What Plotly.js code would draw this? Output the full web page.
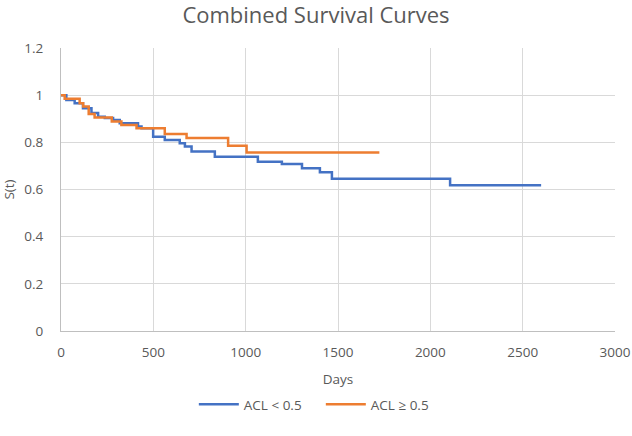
<!DOCTYPE html>
<html>
<head>
<meta charset="utf-8">
<script src="https://cdn.plot.ly/plotly-3.0.1.min.js"></script>
<style>html,body{margin:0;padding:0;background:#fff;}#chart{width:632px;height:436px;}</style>
</head>
<body>
<div id="chart"></div>
<script>
const blueDays = [0, 29, 74, 119, 165, 201, 237, 282, 318, 417, 436, 499, 562, 643, 671, 707, 833, 1066, 1196, 1305, 1402, 1467, 2107, 2600];
const blueS    = [1, 0.98, 0.966, 0.945, 0.924, 0.909, 0.903, 0.895, 0.881, 0.867, 0.86, 0.824, 0.81, 0.796, 0.782, 0.761, 0.739, 0.718, 0.708, 0.69, 0.673, 0.646, 0.618, 0.618];
const orangeDays = [0, 20, 101, 120, 150, 182, 275, 327, 409, 562, 680, 905, 1005, 1724];
const orangeS    = [1, 0.985, 0.966, 0.952, 0.92, 0.905, 0.888, 0.874, 0.86, 0.835, 0.818, 0.785, 0.757, 0.757];
const seriesNames = ["ACL < 0.5", "ACL \u2265 0.5"];
const xTicks = [0, 500, 1000, 1500, 2000, 2500, 3000];
const yTicks = [0, 0.2, 0.4, 0.6, 0.8, 1, 1.2];

const font = "Open Sans, Noto Sans, sans-serif";
const grey = "#595959";
const traces = [
  {x: blueDays, y: blueS, name: seriesNames[0], mode: "lines", line: {shape: "hv", color: "#4472C4", width: 2.5}},
  {x: orangeDays, y: orangeS, name: seriesNames[1], mode: "lines", line: {shape: "hv", color: "#ED7D31", width: 2.5}}
];
const layout = {
  width: 632, height: 436,
  margin: {l: 61, r: 17, t: 48, b: 105},
  paper_bgcolor: "#fff", plot_bgcolor: "#fff",
  font: {family: font, color: grey, size: 13.5},
  title: {text: "Combined Survival Curves", font: {family: font, size: 22, color: grey}, x: 0.5, xanchor: "center", y: 0.966, yanchor: "middle"},
  xaxis: {range: [0, 3000], tickvals: xTicks, ticktext: xTicks.map(String), showgrid: true, gridcolor: "#D9D9D9", gridwidth: 1,
          zeroline: false, showline: true, linecolor: "#BFBFBF", ticks: "outside", ticklen: 9, tickcolor: "rgba(0,0,0,0)",
          tickfont: {family: font, size: 13.5, color: grey},
          title: {text: "Days", font: {family: font, size: 13.5, color: grey}, standoff: 14}},
  yaxis: {range: [0, 1.2], tickvals: yTicks, ticktext: yTicks.map(String), showgrid: true, gridcolor: "#D9D9D9", gridwidth: 1,
          zeroline: false, showline: true, linecolor: "#BFBFBF", ticks: "outside", ticklen: 14, tickcolor: "rgba(0,0,0,0)",
          tickfont: {family: font, size: 13.5, color: grey},
          title: {text: "S(t)", font: {family: font, size: 13.5, color: grey}, standoff: 6}},
  showlegend: true,
  legend: {orientation: "h", x: 0.469, xanchor: "center", y: -0.26, yanchor: "middle", font: {family: font, size: 13.5, color: grey},
           itemwidth: 40, entrywidth: 72, entrywidthmode: "pixels"}
};
Plotly.newPlot("chart", traces, layout, {displayModeBar: false, staticPlot: true});
</script>
</body>
</html>
